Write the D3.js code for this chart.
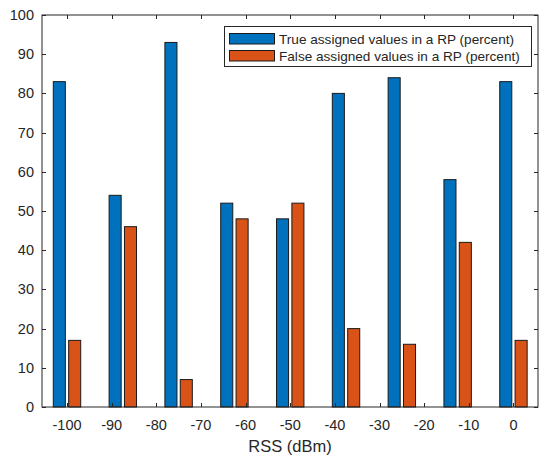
<!DOCTYPE html>
<html>
<head>
<meta charset="utf-8">
<script src="https://cdn.jsdelivr.net/npm/d3@7.9.0/dist/d3.min.js"></script>
<style>
  body { margin: 0; background: #fff; }
  svg text { font-family: "Liberation Sans", Arial, sans-serif; fill: #262626; }
</style>
</head>
<body>
<svg id="chart" width="539" height="455"></svg>
<script>
// data
const rss = [-100, -87.5, -75, -62.5, -50, -37.5, -25, -12.5, 0];
const trueAssigned = [83, 54, 93, 52, 48, 80, 84, 58, 83];
const falseAssigned = [17, 46, 7, 48, 52, 20, 16, 42, 17];
const xTicks = [-100, -90, -80, -70, -60, -50, -40, -30, -20, -10, 0];
const yTicks = [0, 10, 20, 30, 40, 50, 60, 70, 80, 90, 100];
const seriesNames = ['True assigned values in a RP (percent)', 'False assigned values in a RP (percent)'];
const colors = ['#0072BD', '#D95319'];

const svg = d3.select('#chart');
const plotL = 42, plotR = 538, plotT = 15, plotB = 407;

const x = d3.scaleLinear().domain([-105.6, 5.5]).range([plotL, plotR]);
const y = d3.scaleLinear().domain([0, 100]).range([plotB, plotT]);

const barW = x(2.7) - x(0);
const off = x(1.72) - x(0);

const series = [trueAssigned, falseAssigned];
series.forEach((vals, s) => {
  svg.append('g').selectAll('rect')
    .data(vals)
    .join('rect')
    .attr('x', (d, i) => x(rss[i]) + (s === 0 ? -off : off) - barW / 2)
    .attr('y', d => y(d))
    .attr('width', barW)
    .attr('height', d => y(0) - y(d))
    .attr('fill', colors[s])
    .attr('stroke', '#1a1a1a')
    .attr('stroke-width', 1);
});

// axes box + ticks on all four sides
const axisColor = '#262626';
const tickLen = 4;
const g = svg.append('g');
g.append('rect')
  .attr('x', plotL).attr('y', plotT)
  .attr('width', plotR - plotL).attr('height', plotB - plotT)
  .attr('fill', 'none').attr('stroke', axisColor).attr('stroke-width', 1);

xTicks.forEach(t => {
  const px = Math.round(x(t)) + 0.5;
  g.append('line').attr('x1', px).attr('x2', px).attr('y1', plotB).attr('y2', plotB - tickLen).attr('stroke', axisColor);
  g.append('line').attr('x1', px).attr('x2', px).attr('y1', plotT).attr('y2', plotT + tickLen).attr('stroke', axisColor);
  g.append('text').attr('x', x(t)).attr('y', 430).attr('text-anchor', 'middle')
    .style('font-size', '14.5px').text(t);
});

yTicks.forEach(t => {
  const py = Math.round(y(t)) + 0.5;
  g.append('line').attr('x1', plotL).attr('x2', plotL + tickLen).attr('y1', py).attr('y2', py).attr('stroke', axisColor);
  g.append('line').attr('x1', plotR).attr('x2', plotR - tickLen).attr('y1', py).attr('y2', py).attr('stroke', axisColor);
  g.append('text').attr('x', 34).attr('y', y(t)).attr('dy', '0.35em').attr('text-anchor', 'end')
    .style('font-size', '14.5px').text(t);
});

svg.append('text').attr('x', 290).attr('y', 452).attr('text-anchor', 'middle')
  .style('font-size', '16.5px').text('RSS (dBm)');

// legend
const lg = svg.append('g');
lg.append('rect').attr('x', 224.5).attr('y', 26.5).attr('width', 307).attr('height', 40)
  .attr('fill', '#fff').attr('stroke', axisColor).attr('stroke-width', 1);
seriesNames.forEach((name, i) => {
  const yy = 33.5 + i * 17;
  lg.append('rect').attr('x', 229.5).attr('y', yy).attr('width', 45).attr('height', 10.5)
    .attr('fill', colors[i]).attr('stroke', '#1a1a1a');
  lg.append('text').attr('x', 279).attr('y', yy + 5.5).attr('dy', '0.35em')
    .style('font-size', '13.6px').text(name);
});
</script>
</body>
</html>
